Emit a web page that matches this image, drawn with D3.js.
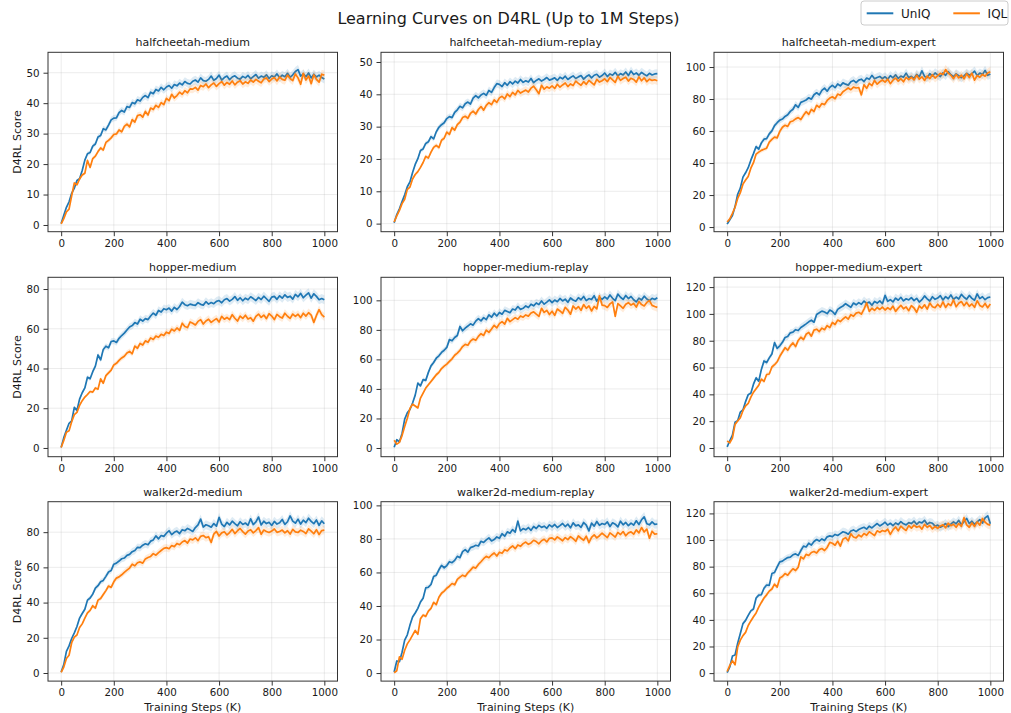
<!DOCTYPE html>
<html>
<head>
<meta charset="utf-8">
<script src="https://cdn.jsdelivr.net/npm/d3@7"></script>
<style>
  body { margin: 0; background: #fff; }
  svg { display: block; font-family: "DejaVu Sans", sans-serif; }
</style>
</head>
<body>
<div id="chart"></div>
<script>
'use strict';

/* ---- data: D4RL score every 10K steps, 0 .. 1000K ---- */
const steps = d3.range(0, 1001, 10);
const xTicks = [0, 200, 400, 600, 800, 1000];
const methods = ['UnIQ', 'IQL'];
const envNames = [
  'halfcheetah-medium', 'halfcheetah-medium-replay', 'halfcheetah-medium-expert',
  'hopper-medium', 'hopper-medium-replay', 'hopper-medium-expert',
  'walker2d-medium', 'walker2d-medium-replay', 'walker2d-medium-expert'
];
const yTickSets = [
  [0, 10, 20, 30, 40, 50], [0, 10, 20, 30, 40, 50], [0, 20, 40, 60, 80, 100],
  [0, 20, 40, 60, 80], [0, 20, 40, 60, 80, 100], [0, 20, 40, 60, 80, 100, 120],
  [0, 20, 40, 60, 80], [0, 20, 40, 60, 80, 100], [0, 20, 40, 60, 80, 100, 120]
];
const yLimits = [
  [-2.2, 56.7], [-2.5, 53.0], [-2.9, 109.2],
  [-4.4, 85.9], [-5.9, 115.6], [-6.5, 127.3],
  [-4.6, 97.3], [-4.8, 102.2], [-6.0, 128.8]
];

const hcMediumUnIQ = [
  0.5, 3.2, 5.8, 7.6, 10.4, 12.1, 14.6, 15.2, 17.9, 21.3,
  23.4, 23.8, 25.9, 26.6, 28.9, 29.4, 31.6, 31.2, 32.8, 34.5,
  35.1, 35.2, 36.9, 37.6, 37.1, 38.9, 38.6, 40.2, 39.8, 41.1,
  40.7, 41.9, 42.5, 41.8, 43.6, 43.1, 44.5, 44.0, 45.2, 44.4,
  45.3, 45.8, 44.9, 46.1, 45.7, 46.6, 46.0, 47.1, 46.5, 46.3,
  47.2, 47.6, 46.9, 48.3, 47.4, 47.2, 47.8, 48.9, 47.5, 48.1,
  49.2, 47.6, 48.4, 48.9, 47.7, 48.6, 49.0, 48.2, 47.9, 48.8,
  48.3, 49.1, 48.0, 48.7, 49.4, 48.2, 48.9, 48.5, 49.3, 48.1,
  49.0, 48.6, 49.6, 48.4, 49.2, 48.7, 49.8, 48.5, 49.3, 50.4,
  51.0, 48.9, 49.6, 48.7, 49.9, 48.3, 49.5, 48.6, 49.2, 48.4,
  47.9
];
const hcMediumIQL = [
  0.4, 2.1, 4.3, 5.2, 9.6, 13.8, 13.2, 15.1, 16.4, 17.0,
  21.2, 18.9, 21.8, 22.6, 24.1, 25.3, 24.6, 27.1, 27.8, 28.6,
  29.7, 29.9, 31.2, 30.6, 32.4, 33.1, 32.2, 34.6, 33.8, 35.9,
  36.2, 35.4, 37.3, 36.1, 38.4, 37.9, 39.3, 38.6, 40.2, 39.5,
  41.6, 40.8, 42.9, 41.7, 42.5, 43.6, 42.9, 44.1, 43.4, 44.7,
  44.6, 45.2, 44.3, 45.8, 45.4, 46.3, 45.1, 46.0, 46.6, 45.5,
  46.4, 47.1, 45.9, 46.8, 46.2, 47.3, 46.0, 46.9, 47.4, 46.3,
  47.0, 46.5, 47.6, 46.9, 47.8, 47.2, 46.7, 47.9, 48.3, 47.1,
  47.9, 48.4, 47.3, 48.6, 47.8, 47.5, 49.2, 48.1, 47.4, 49.6,
  48.3, 46.2, 49.8, 47.6, 48.9, 46.4, 49.3, 47.8, 46.9, 49.5,
  49.2
];
const hcReplayUnIQ = [
  0.3, 2.8, 4.6, 6.8, 8.9, 11.4, 12.9, 15.8, 18.3, 20.1,
  22.6, 23.1, 24.8, 25.3, 26.9, 26.2, 28.4, 29.8, 30.6, 31.2,
  32.5, 33.1, 32.8, 34.4, 35.2, 36.3, 35.8, 37.1, 37.6, 37.0,
  38.8, 39.6, 38.9, 39.8, 40.3, 39.7, 41.2, 40.6, 42.1, 43.3,
  43.1, 42.4, 43.6, 42.8, 43.9, 43.2, 44.1, 43.5, 44.6, 43.7,
  44.2, 43.8, 44.9, 43.6, 44.3, 44.8, 44.1, 44.6, 45.2, 44.4,
  44.7, 45.1, 44.3, 45.3, 44.8, 45.6, 44.6, 45.2, 45.7, 44.9,
  45.4, 45.8, 44.7, 45.5, 46.0, 45.1, 45.9, 46.2, 45.3, 45.8,
  46.6, 45.5, 46.3, 45.9, 46.8, 45.7, 46.4, 46.0, 46.9, 45.8,
  47.2, 46.1, 46.6, 45.9, 46.8, 46.2, 45.7, 46.5, 46.0, 46.3,
  46.4
];
const hcReplayIQL = [
  0.5, 2.4, 4.1, 6.2, 7.5, 10.6, 11.3, 13.8, 15.2, 16.1,
  17.4, 18.9, 20.8, 20.3, 22.1, 23.6, 24.2, 23.5, 25.8, 26.4,
  28.3, 27.6, 29.7, 28.9, 30.6, 31.4, 32.8, 33.2, 32.6, 34.1,
  34.8, 33.9, 35.3, 36.2, 35.1, 36.6, 37.4, 36.8, 38.3, 37.5,
  38.9, 39.4, 38.6, 40.1, 39.3, 40.6, 39.8, 41.2, 40.4, 40.9,
  41.3, 40.7, 41.9, 42.5, 41.4, 40.2, 42.8, 41.6, 42.3, 41.9,
  42.6, 41.8, 43.1, 42.2, 42.9, 43.5, 42.4, 43.2, 42.7, 44.1,
  43.4, 42.8, 43.9, 43.1, 44.3, 43.6, 42.9, 44.6, 43.8, 44.2,
  44.8, 43.9, 45.2, 44.5, 43.7, 45.6, 44.3, 44.9, 45.3, 44.1,
  45.0, 44.6, 43.8, 45.4, 44.2, 45.1, 43.9, 44.7, 44.3, 44.5,
  44.2
];
const hcExpertUnIQ = [
  1.8, 4.6, 7.2, 12.8, 20.5, 24.3, 31.2, 33.9, 37.1, 41.8,
  45.9, 50.3, 48.7, 52.6, 54.9, 55.3, 58.2, 60.1, 63.4, 65.2,
  66.8, 67.5, 69.1, 70.2, 72.3, 73.6, 76.4, 74.8, 77.9, 78.6,
  79.4, 80.8, 79.9, 82.7, 83.9, 82.6, 85.4, 86.8, 84.9, 87.3,
  88.6, 87.1, 89.4, 88.2, 90.1, 89.3, 88.7, 90.8, 91.6, 90.2,
  91.8, 92.4, 90.9, 93.1, 92.3, 94.8, 92.6, 93.5, 94.1, 92.8,
  93.9, 92.4, 94.6, 93.2, 95.1, 92.9, 94.3, 93.6, 96.2, 93.4,
  94.2, 92.8, 95.4, 93.9, 97.6, 94.1, 93.3, 95.8, 94.4, 96.3,
  95.1, 94.0, 96.4, 94.8, 97.1, 95.2, 93.9, 95.7, 94.6, 93.3,
  94.5, 96.1, 94.9, 95.8, 97.4, 94.6, 96.2, 95.3, 97.9, 94.8,
  95.6
];
const hcExpertIQL = [
  3.2, 5.1, 8.6, 12.4, 17.9, 21.5, 26.8, 29.4, 31.6, 36.8,
  40.2, 45.6, 46.8, 47.9, 48.6, 49.3, 53.1, 54.8, 56.2, 55.7,
  59.8, 62.4, 63.6, 62.9, 65.8, 66.3, 67.6, 68.4, 67.2, 69.8,
  72.1, 70.4, 73.6, 72.2, 76.1, 74.8, 77.2, 76.5, 79.1, 80.6,
  81.4, 80.2, 83.1, 82.4, 84.6, 85.7, 86.9, 85.8, 87.4, 86.9,
  87.2, 82.6, 88.9, 86.7, 89.8, 88.4, 91.6, 89.3, 90.8, 91.9,
  90.6, 92.4, 89.6, 91.8, 93.1, 91.2, 92.7, 90.8, 93.5, 92.1,
  93.6, 91.9, 94.8, 92.4, 93.9, 91.6, 94.4, 92.7, 95.2, 93.1,
  94.6, 96.1, 95.3, 98.4, 96.2, 94.8, 92.7, 95.4, 93.2, 94.9,
  92.6, 95.8, 93.4, 96.1, 91.8, 94.7, 93.6, 95.4, 94.2, 96.3,
  97.1
];
const hopperMediumUnIQ = [
  0.3, 5.2, 8.9, 12.4, 13.6, 20.4, 18.9, 24.6, 27.8, 30.2,
  35.6, 34.8, 38.4, 41.2, 46.8, 44.3, 49.6, 51.2, 50.4, 53.6,
  53.9, 53.1, 55.2, 56.6, 57.8, 59.4, 60.9, 61.6, 63.1, 62.4,
  64.8, 63.9, 65.1, 64.6, 66.4, 67.9, 66.8, 69.2, 68.4, 70.1,
  69.6, 70.4, 68.9, 70.8, 69.7, 71.2, 73.4, 72.1, 71.6, 72.4,
  72.0, 71.8, 73.1, 72.3, 71.9, 73.6, 72.4, 73.2, 72.6, 73.8,
  74.2, 73.1, 74.6, 75.2, 73.9, 74.8, 76.2, 74.3, 75.6, 74.1,
  75.4, 74.6, 76.1, 75.2, 74.2, 75.8, 74.7, 76.4, 75.1, 73.8,
  75.9, 76.3, 74.8, 76.6, 75.4, 77.1, 75.8, 76.4, 74.9, 77.3,
  76.1, 77.8, 75.6, 76.9, 78.1, 75.4, 77.6, 76.3, 74.6, 75.2,
  74.6
];
const hopperMediumIQL = [
  0.2, 3.8, 7.9, 8.6, 13.2, 16.8, 17.9, 21.4, 23.8, 25.6,
  26.9, 28.4, 28.1, 30.2, 29.6, 34.8, 32.6, 36.4, 37.8, 39.2,
  41.8, 42.6, 44.1, 45.3, 46.2, 47.8, 48.6, 47.4, 51.3, 50.2,
  52.6, 51.8, 53.9, 53.2, 55.4, 54.6, 56.3, 55.7, 57.2, 56.6,
  58.3, 57.6, 59.8, 58.9, 60.4, 59.2, 62.8, 61.1, 60.6, 63.4,
  62.8, 61.9, 63.7, 64.6, 62.4, 63.9, 64.8, 63.2, 64.2, 65.1,
  63.4, 66.2, 64.8, 65.7, 64.6, 67.1, 65.3, 63.9, 66.4, 65.2,
  66.8, 64.9, 65.6, 63.8, 66.2, 67.4, 65.7, 66.9, 65.1, 67.6,
  66.4, 64.6, 67.2, 66.1, 65.4, 67.8, 66.3, 65.2, 67.4, 66.2,
  67.3, 65.6, 67.8, 66.4, 68.1, 66.9, 63.2, 66.7, 69.6, 67.1,
  65.9
];
const hopperReplayUnIQ = [
  0.5, 5.6, 4.2, 9.8, 19.6, 23.8, 26.1, 30.4, 35.8, 43.9,
  42.1, 46.3, 45.8, 51.2, 55.6, 57.9, 60.8, 62.4, 64.7, 66.2,
  68.1, 73.4, 72.6, 74.8, 76.2, 82.3, 79.4, 81.2, 82.6, 84.1,
  83.2, 85.9, 87.6, 86.1, 88.3, 86.9, 90.2, 88.6, 91.3, 89.4,
  91.8, 90.6, 93.2, 92.4, 91.6, 94.1, 93.4, 95.8, 93.9, 94.6,
  96.2, 95.1, 97.4, 96.3, 98.2, 97.1, 99.6, 97.4, 98.8, 100.3,
  98.4, 100.2, 99.1, 101.3, 99.6, 100.8, 98.7, 101.6, 100.2, 99.4,
  101.8, 100.4, 102.6, 99.8, 101.2, 100.6, 103.1, 99.5, 101.9, 100.7,
  102.4, 100.9, 103.6, 101.4, 99.8, 104.2, 102.1, 100.6, 103.3, 101.2,
  102.6, 100.4, 98.9, 101.5, 100.2, 102.8, 100.9, 99.8, 101.4, 100.6,
  101.8
];
const hopperReplayIQL = [
  5.2, 2.6, 3.8, 8.4, 14.6, 20.2, 26.8, 29.6, 28.4, 27.1,
  33.8, 37.2, 40.6, 42.8, 45.1, 47.3, 49.6, 51.2, 53.8, 55.4,
  56.8, 58.6, 60.4, 62.8, 64.3, 66.1, 68.7, 70.2, 69.6, 72.4,
  73.8, 72.9, 75.6, 77.4, 76.2, 79.8, 78.3, 80.6, 83.1, 81.4,
  84.2, 85.6, 83.9, 87.8, 85.6, 86.9, 88.3, 87.2, 89.4, 88.6,
  90.1, 89.3, 91.4, 92.2, 90.6, 89.1, 94.6, 91.8, 93.2, 90.4,
  92.6, 89.8, 94.1, 92.8, 91.2, 95.3, 93.4, 90.6, 96.2, 94.1,
  95.8, 93.2, 97.1, 94.6, 96.3, 92.8, 95.9, 94.2, 103.1, 96.8,
  96.4, 95.2, 97.6, 98.9, 89.2, 97.8, 96.2, 94.6, 97.3, 98.4,
  96.8, 97.9, 95.4, 99.2, 97.1, 96.2, 98.6, 99.8, 96.6, 95.8,
  95.2
];
const hopperExpertUnIQ = [
  0.8, 5.4, 9.6, 19.2, 20.4, 26.8, 28.4, 34.6, 39.8, 40.9,
  47.6, 52.3, 49.8, 58.6, 64.9, 63.7, 67.2, 70.1, 78.6, 74.3,
  76.2, 78.8, 82.4, 83.1, 85.9, 86.4, 88.2, 87.6, 89.9, 91.2,
  92.6, 94.1, 95.3, 93.8, 99.6, 100.8, 102.1, 101.4, 100.2, 102.9,
  101.8, 99.6, 103.4, 104.8, 105.9, 107.6, 106.3, 104.9, 108.1, 106.8,
  108.4, 107.2, 109.6, 107.9, 108.8, 106.4, 109.3, 108.1, 109.7, 107.6,
  113.8, 109.4, 110.6, 108.9, 111.8, 110.2, 112.4, 109.7, 111.3, 110.4,
  112.1, 109.9, 111.6, 108.8, 110.6, 113.4, 111.2, 109.6, 112.8, 110.9,
  111.8, 113.6, 110.4, 112.9, 111.3, 114.2, 110.8, 112.6, 111.1, 114.6,
  112.4, 110.9, 113.8, 111.6, 110.2, 114.9, 111.4, 112.8, 110.6, 112.1,
  112.6
];
const hopperExpertIQL = [
  5.2, 3.8, 7.4, 17.6, 20.1, 22.6, 27.8, 31.4, 33.2, 37.9,
  41.6, 44.2, 46.8, 51.3, 49.6, 54.8, 55.2, 60.4, 62.1, 64.3,
  68.4, 71.6, 74.8, 72.9, 76.2, 78.4, 75.6, 80.2, 82.6, 80.9,
  84.8, 86.2, 83.4, 87.9, 88.6, 86.8, 89.4, 88.2, 91.3, 89.8,
  93.6, 92.1, 95.4, 94.3, 96.2, 97.8, 96.1, 99.4, 98.2, 100.6,
  101.2, 99.8, 103.6, 108.2, 101.9, 104.2, 102.6, 104.8, 103.3, 105.1,
  102.9, 104.6, 103.2, 105.8, 101.9, 104.3, 106.4, 103.8, 105.2, 102.4,
  106.1, 104.4, 101.2, 105.9, 104.2, 106.8, 103.6, 108.1, 105.4, 104.6,
  107.2, 105.1, 108.9, 104.8, 107.6, 106.2, 110.4, 105.3, 107.9, 109.2,
  106.1, 108.6, 105.7, 107.4, 104.9, 109.8, 106.3, 105.2, 107.8, 104.6,
  107.3
];
const walkerMediumUnIQ = [
  0.6, 4.8, 12.3, 15.4, 19.6, 22.8, 26.4, 31.2, 33.8, 36.2,
  41.4, 42.6, 44.8, 48.2, 49.6, 51.8, 52.6, 54.9, 57.4, 58.2,
  61.8, 62.4, 63.6, 64.9, 65.3, 66.8, 67.4, 68.9, 69.6, 71.4,
  71.2, 72.6, 73.4, 72.8, 74.9, 75.6, 77.9, 76.2, 78.1, 77.6,
  79.4, 80.8, 78.6, 79.9, 80.6, 79.2, 81.4, 80.8, 82.1, 81.3,
  80.4, 82.6, 84.1, 87.4, 82.9, 84.2, 83.6, 82.8, 84.9, 83.4,
  88.4, 84.6, 83.2, 85.6, 84.1, 86.2, 84.8, 83.6, 85.9, 84.4,
  85.2, 83.9, 87.6, 84.3, 85.8, 88.6, 84.1, 86.2, 84.9, 85.6,
  83.8, 86.1, 84.6, 85.3, 87.2, 84.4, 85.9, 89.2, 86.3, 85.1,
  87.4, 84.6, 86.8, 85.4, 87.9, 86.1, 84.8, 86.9, 83.9, 86.4,
  84.8
];
const walkerMediumIQL = [
  0.3, 3.4, 8.2, 10.1, 17.2, 20.4, 21.6, 25.8, 27.9, 31.2,
  34.1, 35.6, 38.2, 36.8, 41.4, 42.3, 44.6, 46.8, 49.4, 48.6,
  51.8, 53.9, 54.6, 55.8, 57.2, 58.4, 59.6, 61.8, 60.9, 62.6,
  63.1, 62.4, 64.8, 65.6, 66.2, 67.8, 66.9, 68.4, 69.6, 70.8,
  71.2, 70.6, 72.4, 71.8, 73.6, 72.9, 74.4, 75.2, 73.8, 76.1,
  75.6, 76.8, 75.2, 77.6, 78.1, 76.9, 77.4, 74.2, 78.9, 80.4,
  77.8, 79.6, 80.2, 78.4, 79.8, 81.6, 79.2, 80.8, 82.1, 80.3,
  78.9, 80.6, 81.4, 79.6, 80.9, 82.6, 78.8, 81.2, 80.4, 79.8,
  80.6, 81.8, 79.9, 80.4, 81.2, 79.6, 80.8, 78.9, 81.6, 80.2,
  79.8, 81.1, 80.4, 79.2, 81.9, 80.6, 79.1, 81.4, 78.6, 80.9,
  81.2
];
const walkerReplayUnIQ = [
  0.6, 7.2, 6.8, 12.4, 19.6, 22.8, 28.6, 33.4, 35.8, 38.6,
  42.4, 44.6, 50.8, 51.2, 52.8, 57.6, 58.4, 61.6, 64.2, 62.8,
  64.1, 66.4, 65.8, 67.2, 69.6, 68.8, 72.4, 73.6, 72.1, 74.8,
  75.4, 76.2, 75.8, 78.6, 77.9, 79.4, 80.6, 78.8, 79.6, 81.2,
  80.4, 83.1, 81.6, 84.2, 83.4, 85.6, 84.1, 90.6, 84.8, 86.2,
  85.4, 86.8, 85.1, 87.4, 86.2, 88.1, 86.9, 87.6, 86.3, 88.4,
  87.2, 88.6, 86.8, 87.9, 89.2, 87.4, 88.8, 86.6, 89.6, 87.8,
  88.4, 86.9, 89.8, 88.2, 84.8, 89.4, 87.6, 90.4, 88.1, 89.2,
  88.6, 90.2, 87.4, 89.6, 88.8, 87.2, 90.6, 88.4, 89.8, 87.9,
  89.4, 88.2, 90.8, 88.6, 91.4, 93.2, 89.1, 88.4, 90.2, 88.7,
  88.9
];
const walkerReplayIQL = [
  0.2, 1.4, 9.6, 8.2, 13.6, 17.4, 19.8, 22.6, 25.4, 23.1,
  32.4, 34.6, 33.8, 36.9, 38.6, 42.1, 40.8, 45.2, 47.6, 48.9,
  50.6, 51.8, 53.4, 52.6, 55.9, 57.2, 58.4, 57.6, 59.8, 61.4,
  63.2, 62.6, 64.8, 66.4, 68.2, 69.6, 68.8, 70.4, 71.6, 69.8,
  72.1, 71.4, 73.6, 72.8, 74.6, 75.8, 74.2, 76.4, 75.6, 77.2,
  78.1, 76.8, 77.6, 79.2, 78.4, 77.1, 78.9, 79.8, 78.2, 80.4,
  80.6, 79.4, 81.2, 80.1, 78.9, 80.8, 79.6, 81.4, 80.2, 78.6,
  81.8, 80.4, 79.2, 81.6, 77.8, 80.9, 82.4, 80.6, 81.9, 83.4,
  82.1, 80.8, 83.6, 82.4, 81.1, 83.9, 82.6, 84.4, 81.9, 83.6,
  84.2, 82.8, 85.4, 83.6, 86.8, 84.1, 85.9, 80.4, 84.6, 82.9,
  83.1
];
const walkerExpertUnIQ = [
  0.4, 4.6, 12.8, 13.6, 22.4, 29.8, 37.2, 39.6, 43.4, 46.8,
  48.2, 56.4, 58.6, 58.9, 63.8, 66.2, 65.9, 74.8, 75.6, 79.8,
  83.6, 84.1, 85.6, 86.8, 87.2, 88.9, 89.6, 88.4, 92.1, 95.4,
  94.8, 97.6, 96.2, 98.9, 100.4, 99.2, 100.8, 99.6, 102.4, 103.1,
  102.6, 104.2, 103.4, 104.8, 106.2, 105.6, 104.4, 106.8, 107.6, 106.3,
  107.9, 108.8, 109.6, 108.2, 110.4, 109.1, 110.8, 112.4, 110.6, 111.8,
  113.4, 111.2, 112.6, 110.9, 112.8, 111.6, 113.9, 112.2, 111.4, 113.1,
  112.4, 114.2, 111.8, 113.6, 112.9, 114.8, 111.9, 113.2, 112.6, 110.4,
  111.2, 109.6, 110.8, 112.4, 110.1, 111.9, 113.6, 112.2, 114.8, 111.6,
  113.8, 116.2, 112.4, 114.1, 111.8, 113.6, 115.4, 112.8, 116.6, 118.2,
  112.2
];
const walkerExpertIQL = [
  1.2, 5.8, 9.4, 6.2, 19.6, 24.8, 28.2, 30.6, 35.8, 39.2,
  42.4, 45.2, 49.6, 53.1, 56.4, 58.8, 61.6, 63.2, 66.8, 64.6,
  71.4, 72.6, 74.8, 73.6, 76.2, 78.4, 77.1, 79.6, 87.4, 85.8,
  89.2, 88.4, 90.6, 91.4, 90.2, 92.8, 93.6, 92.1, 94.4, 98.2,
  97.6, 96.1, 99.2, 95.4, 100.6, 101.8, 99.4, 104.6, 102.3, 101.6,
  103.8, 102.4, 104.9, 103.6, 106.2, 104.8, 103.4, 106.9, 105.8, 107.2,
  106.4, 108.1, 104.2, 107.6, 109.8, 106.9, 110.4, 108.6, 107.2, 110.8,
  108.9, 111.2, 109.6, 110.4, 108.2, 111.8, 109.6, 110.9, 108.4, 110.2,
  108.8, 110.6, 111.4, 109.2, 112.6, 110.8, 111.9, 109.6, 112.4, 110.2,
  116.8, 111.4, 109.6, 112.8, 110.2, 113.6, 111.2, 116.2, 113.4, 111.8,
  111.2
];

// spread of the shaded band, as a fraction of the mean
const bandFrac = 0.03;

const panelSeries = [
  [hcMediumUnIQ, hcMediumIQL], [hcReplayUnIQ, hcReplayIQL], [hcExpertUnIQ, hcExpertIQL],
  [hopperMediumUnIQ, hopperMediumIQL], [hopperReplayUnIQ, hopperReplayIQL], [hopperExpertUnIQ, hopperExpertIQL],
  [walkerMediumUnIQ, walkerMediumIQL], [walkerReplayUnIQ, walkerReplayIQL], [walkerExpertUnIQ, walkerExpertIQL]
];
panelSeries.forEach((pair, i) => pair.forEach((s, j) => {
  if (s.length !== steps.length) throw new Error(`${envNames[i]} ${methods[j]}: ${s.length} values`);
}));

/* ---- layout ---- */
const W = 1011, H = 713;
const colors = ['#1f77b4', '#ff7f0e'];
const colX = [48, 381, 714];
const rowY = [52.3, 277.3, 501.7];
const axW = 289.5, axH = 179.4;

const svg = d3.select('#chart').append('svg')
  .attr('width', W).attr('height', H).attr('viewBox', `0 0 ${W} ${H}`);

svg.append('text')
  .attr('x', 508.5).attr('y', 24)
  .attr('text-anchor', 'middle').attr('font-size', 16).attr('fill', '#1a1a1a')
  .text('Learning Curves on D4RL (Up to 1M Steps)');

const x = d3.scaleLinear().domain([-50, 1050]).range([0, axW]);

envNames.forEach((name, i) => {
  const r = Math.floor(i / 3), c = i % 3;
  const g = svg.append('g').attr('transform', `translate(${colX[c]},${rowY[r]})`);
  const y = d3.scaleLinear().domain(yLimits[i]).range([axH, 0]);

  g.append('clipPath').attr('id', `clip${i}`)
    .append('rect').attr('width', axW).attr('height', axH);

  // grid
  g.append('g').selectAll('line').data(xTicks).join('line')
    .attr('x1', d => x(d)).attr('x2', d => x(d)).attr('y1', 0).attr('y2', axH)
    .attr('stroke', '#b0b0b0').attr('stroke-opacity', 0.3).attr('stroke-width', 0.8);
  g.append('g').selectAll('line').data(yTickSets[i]).join('line')
    .attr('y1', d => y(d)).attr('y2', d => y(d)).attr('x1', 0).attr('x2', axW)
    .attr('stroke', '#b0b0b0').attr('stroke-opacity', 0.3).attr('stroke-width', 0.8);

  const plot = g.append('g').attr('clip-path', `url(#clip${i})`);
  panelSeries[i].forEach((vals, j) => {
    const pts = steps.map((s, k) => ({ s, v: vals[k] }));
    const area = d3.area()
      .x(d => x(d.s))
      .y0(d => y(d.v * (1 - bandFrac)))
      .y1(d => y(d.v * (1 + bandFrac)));
    plot.append('path').datum(pts)
      .attr('d', area).attr('fill', colors[j]).attr('fill-opacity', 0.15);
    const line = d3.line().x(d => x(d.s)).y(d => y(d.v));
    plot.append('path').datum(pts)
      .attr('d', line).attr('fill', 'none')
      .attr('stroke', colors[j]).attr('stroke-width', 1.7)
      .attr('stroke-linejoin', 'round');
  });

  // axes
  const xAxis = d3.axisBottom(x).tickValues(xTicks).tickFormat(d3.format('d'))
    .tickSize(4.5).tickPadding(3.5);
  const yAxis = d3.axisLeft(y).tickValues(yTickSets[i]).tickFormat(d3.format('d'))
    .tickSize(4.5).tickPadding(4);
  const gx = g.append('g').attr('transform', `translate(0,${axH})`).call(xAxis);
  const gy = g.append('g').call(yAxis);
  [gx, gy].forEach(a => {
    a.select('.domain').remove();
    a.selectAll('text').attr('font-size', 10.3).attr('fill', '#1a1a1a')
      .attr('font-family', '"DejaVu Sans", sans-serif');
    a.selectAll('line').attr('stroke', '#333');
  });

  g.append('rect').attr('width', axW).attr('height', axH)
    .attr('fill', 'none').attr('stroke', '#333').attr('stroke-width', 1);

  g.append('text')
    .attr('x', axW / 2).attr('y', -6)
    .attr('text-anchor', 'middle').attr('font-size', 11).attr('fill', '#1a1a1a')
    .text(name);

  if (c === 0) {
    g.append('text')
      .attr('transform', `translate(${16.5 - colX[0] + 4},${axH / 2}) rotate(-90)`)
      .attr('text-anchor', 'middle').attr('font-size', 11).attr('fill', '#1a1a1a')
      .text('D4RL Score');
  }
  if (r === 2) {
    g.append('text')
      .attr('x', axW / 2).attr('y', axH + 30)
      .attr('text-anchor', 'middle').attr('font-size', 11).attr('fill', '#1a1a1a')
      .text('Training Steps (K)');
  }
});

/* ---- legend ---- */
const lg = svg.append('g').attr('transform', 'translate(861,1)');
lg.append('rect').attr('width', 147).attr('height', 24).attr('rx', 3)
  .attr('fill', '#fff').attr('stroke', '#ccc').attr('stroke-width', 1);
const legendX = [5.7, 92.3];
methods.forEach((m, j) => {
  lg.append('line')
    .attr('x1', legendX[j]).attr('x2', legendX[j] + 26.6)
    .attr('y1', 12.3).attr('y2', 12.3)
    .attr('stroke', colors[j]).attr('stroke-width', 2);
  lg.append('text')
    .attr('x', legendX[j] + 34.3).attr('y', 17)
    .attr('font-size', 12).attr('fill', '#1a1a1a')
    .text(m);
});
</script>
</body>
</html>
